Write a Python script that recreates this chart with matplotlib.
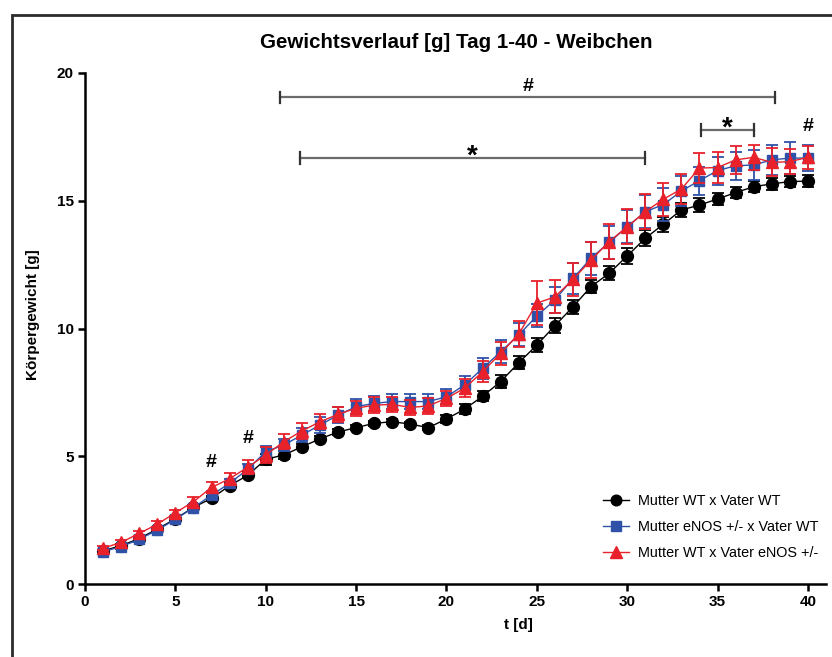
import numpy as np
import matplotlib
matplotlib.use('Agg')
import matplotlib.pyplot as plt
from matplotlib.patches import Rectangle
from matplotlib.lines import Line2D

plt.rcParams['font.family'] = ['Liberation Sans', 'DejaVu Sans']

# data (mean +/- SEM per day)
days = np.arange(1, 41)

wt_wt = [1.30, 1.50, 1.78, 2.15, 2.55, 3.00, 3.35, 3.85, 4.25, 4.88,
         5.05, 5.37, 5.68, 5.95, 6.12, 6.29, 6.35, 6.26, 6.12, 6.46,
         6.84, 7.35, 7.92, 8.66, 9.35, 10.11, 10.85, 11.64, 12.16, 12.84,
         13.53, 14.08, 14.64, 14.83, 15.07, 15.32, 15.55, 15.66, 15.75, 15.77]
wt_wt_err = [0.05, 0.05, 0.05, 0.06, 0.07, 0.08, 0.10, 0.10, 0.12, 0.22,
             0.15, 0.10, 0.10, 0.10, 0.10, 0.10, 0.10, 0.10, 0.10, 0.15,
             0.20, 0.20, 0.25, 0.26, 0.28, 0.30, 0.28, 0.26, 0.28, 0.30,
             0.32, 0.30, 0.28, 0.28, 0.25, 0.22, 0.22, 0.22, 0.22, 0.22]

mko_wt = [1.27, 1.46, 1.75, 2.11, 2.53, 2.99, 3.48, 3.94, 4.49, 5.18,
          5.44, 5.83, 6.22, 6.61, 6.94, 7.07, 7.14, 7.14, 7.14, 7.33,
          7.79, 8.44, 9.09, 9.75, 10.49, 11.12, 11.96, 12.75, 13.37, 13.98,
          14.57, 14.85, 15.38, 15.79, 16.18, 16.37, 16.40, 16.60, 16.67, 16.67]
mko_wt_err = [0.08, 0.08, 0.10, 0.10, 0.10, 0.12, 0.15, 0.18, 0.20, 0.22,
              0.25, 0.28, 0.30, 0.30, 0.30, 0.30, 0.30, 0.30, 0.30, 0.30,
              0.35, 0.40, 0.45, 0.45, 0.45, 0.50, 0.60, 0.65, 0.65, 0.65,
              0.65, 0.65, 0.60, 0.55, 0.55, 0.55, 0.60, 0.60, 0.62, 0.50]

wt_vko = [1.40, 1.63, 1.98, 2.34, 2.79, 3.22, 3.78, 4.12, 4.57, 5.05,
          5.57, 5.99, 6.35, 6.64, 6.88, 7.00, 7.03, 6.91, 6.97, 7.27,
          7.66, 8.31, 9.03, 9.78, 10.99, 11.24, 11.92, 12.68, 13.40, 13.98,
          14.57, 15.06, 15.46, 16.28, 16.30, 16.60, 16.70, 16.50, 16.53, 16.70]
wt_vko_err = [0.08, 0.10, 0.10, 0.12, 0.12, 0.20, 0.22, 0.22, 0.28, 0.30,
              0.30, 0.30, 0.30, 0.30, 0.30, 0.30, 0.30, 0.30, 0.30, 0.30,
              0.35, 0.40, 0.45, 0.50, 0.85, 0.65, 0.65, 0.70, 0.68, 0.68,
              0.68, 0.65, 0.60, 0.60, 0.60, 0.55, 0.50, 0.55, 0.50, 0.45]

labels = ['Mutter WT x Vater WT', 'Mutter eNOS +/- x Vater WT',
          'Mutter WT x Vater eNOS +/-']

# significance brackets: (x start, x end, y, symbol)
brackets = [(10.8, 38.2, 19.05, '#'), (11.9, 31.0, 16.67, '*'),
            (34.1, 37.0, 17.77, '*')]
# single markers: (x, y, symbol)
marks = [(7, 4.77, '#'), (9, 5.7, '#'), (40, 17.9, '#')]

W, H = 832, 657
fig = plt.figure(figsize=(W / 100, H / 100), dpi=100)
ax = fig.add_axes([85 / W, 1 - 584 / H, (826 - 85) / W, (584 - 73) / H])

# frame around the figure
fig.patches.append(Rectangle((12 / W, -0.1), 1.2, 1.1 - 15 / H,
                             transform=fig.transFigure, fill=False,
                             ec='#2b2b2b', lw=2.0, zorder=0))

series = [
    (wt_wt, wt_wt_err, 'black', 'o', 8.5, 2),
    (mko_wt, mko_wt_err, '#2f52a8', 's', 7.5, 3),
    (wt_vko, wt_vko_err, '#e8212b', '^', 9, 4),
]
handles = []
for vals, err, col, mk, ms, z in series:
    ax.errorbar(days, vals, yerr=err, color=col, marker=mk, ms=ms,
                lw=1.0, elinewidth=1.3, capsize=4, capthick=1.3, zorder=z)
    handles.append(Line2D([], [], color=col, marker=mk, ms=ms * 0.9, lw=1.0))

for x0, x1, y, s in brackets:
    ax.plot([x0, x1], [y, y], color='#6b6b6b', lw=1.6, zorder=1)
    for xe in (x0, x1):
        ax.plot([xe, xe], [y - 0.22, y + 0.22], color='#333333', lw=1.6,
                zorder=1)
    if s == '#':
        ax.annotate(s, ((x0 + x1) / 2, y), xytext=(0, 11),
                    textcoords='offset pixels', fontsize=14,
                    fontweight='bold', ha='center', va='center')
    else:
        ax.annotate(s, ((x0 + x1) / 2, y), xytext=(0, 1),
                    textcoords='offset pixels', fontsize=20,
                    fontweight='bold', ha='center', va='center')
for x, y, s in marks:
    ax.text(x, y, s, fontsize=14, fontweight='bold', ha='center',
            va='center')

ax.set_xlim(0, 41)
ax.set_ylim(0, 20)
ax.set_xticks(range(0, 41, 5))
ax.set_yticks(range(0, 21, 5))
for sp in ('top', 'right'):
    ax.spines[sp].set_visible(False)
for sp in ('left', 'bottom'):
    ax.spines[sp].set_linewidth(1.8)
ax.tick_params(width=1.8, length=5, labelsize=11, pad=3)
for t in ax.get_xticklabels() + ax.get_yticklabels():
    t.set_fontweight('bold')

fig.text(456 / W, 1 - 43 / H, 'Gewichtsverlauf [g] Tag 1-40 - Weibchen',
         ha='center', va='center', fontsize=14.8, fontweight='bold')
fig.text(518 / W, 1 - 625 / H, 't [d]', ha='center', va='center',
         fontsize=11, fontweight='bold')
fig.text(33 / W, 1 - 315 / H, 'Körpergewicht [g]', ha='center', va='center',
         rotation=90, fontsize=11, fontweight='bold')

ax.legend(handles, labels, loc='center left', frameon=False,
          bbox_to_anchor=(590 / W, 1 - 527 / H), bbox_transform=fig.transFigure,
          fontsize=10.4, handlelength=1.8, labelspacing=0.8, handletextpad=0.6)

fig.savefig('out.png', dpi=100)
